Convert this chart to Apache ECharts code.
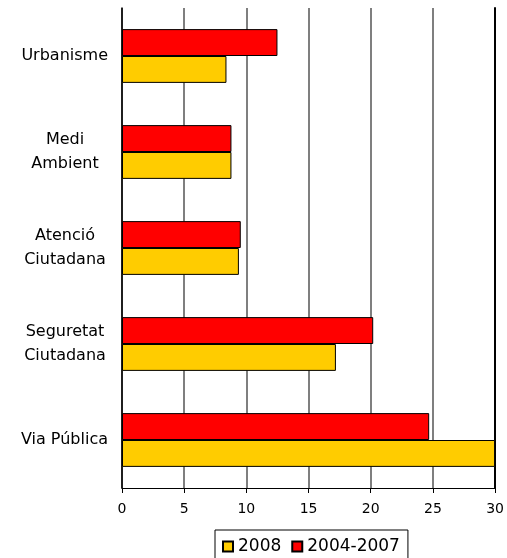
<!DOCTYPE html>
<html>
<head>
<meta charset="utf-8">
<script src="https://cdn.jsdelivr.net/npm/echarts@6/dist/echarts.min.js"></script>
<style>
  html, body { margin: 0; padding: 0; background: #fff; }
  #main { width: 507px; height: 558px; }
</style>
</head>
<body>
<div id="main"></div>
<script>
// categories listed bottom -> top (category axis runs upward)
var categories = ['Via Pública', 'Seguretat\nCiutadana', 'Atenció\nCiutadana', 'Medi\nAmbient', 'Urbanisme'];
var data2008 = [30, 17.2, 9.4, 8.8, 8.4];
var data0407 = [24.7, 20.2, 9.55, 8.8, 12.5];
var xTicks = [0, 5, 10, 15, 20, 25, 30];

var chart = echarts.init(document.getElementById('main'));

// multi-line labels: lines centred on each other, block right aligned
function labelFmt(v) {
  var lines = v.split('\n');
  if (lines.length == 1) return '{n|' + v + '}';
  return lines.map(function (l) { return '{c|' + l + '}'; }).join('\n');
}

chart.setOption({
  animation: false,
  textStyle: { fontFamily: 'DejaVu Sans' },
  grid: { left: 122, right: 9, top: 8, bottom: 70 },
  legend: {
    data: ['2008', '2004-2007'],
    left: 215,
    top: 530,
    padding: [8, 8, 8, 7],
    borderColor: '#000',
    borderWidth: 1,
    itemWidth: 10,
    itemHeight: 10,
    itemGap: 10,
    icon: 'rect',
    textStyle: { fontSize: 17, color: '#000' }
  },
  xAxis: {
    type: 'value',
    min: xTicks[0],
    max: xTicks[xTicks.length - 1],
    interval: 5,
    axisLine: { show: true, lineStyle: { color: '#000', width: 1 } },
    axisTick: { show: true, length: 5, lineStyle: { color: '#000' } },
    axisLabel: { fontSize: 14, color: '#000', margin: 14 },
    splitLine: { show: true, lineStyle: { color: '#555', width: 1.5 } }
  },
  yAxis: [{
    type: 'category',
    data: categories,
    axisLine: { lineStyle: { color: '#000', width: 1.5 } },
    axisTick: { length: 6, lineStyle: { color: '#000' } },
    axisLabel: {
      margin: 14,
      formatter: labelFmt,
      rich: {
        n: { fontSize: 16, color: '#000', fontFamily: 'DejaVu Sans' },
        c: { fontSize: 16, color: '#000', fontFamily: 'DejaVu Sans', width: 86, align: 'center', lineHeight: 24 }
      }
    }
  }, {
    type: 'category',
    position: 'right',
    data: categories,
    axisLine: { lineStyle: { color: '#000', width: 2 } },
    axisTick: { show: false },
    axisLabel: { show: false }
  }],
  // 2004-2007 first so it sits above 2008 in each band
  series: [{
    name: '2004-2007',
    type: 'bar',
    data: data0407,
    barGap: '0%',
    barCategoryGap: '44%',
    itemStyle: { color: '#FF0000', borderColor: '#000', borderWidth: 1 }
  }, {
    name: '2008',
    type: 'bar',
    data: data2008,
    itemStyle: { color: '#FFCC00', borderColor: '#000', borderWidth: 1 }
  }]
});
</script>
</body>
</html>
